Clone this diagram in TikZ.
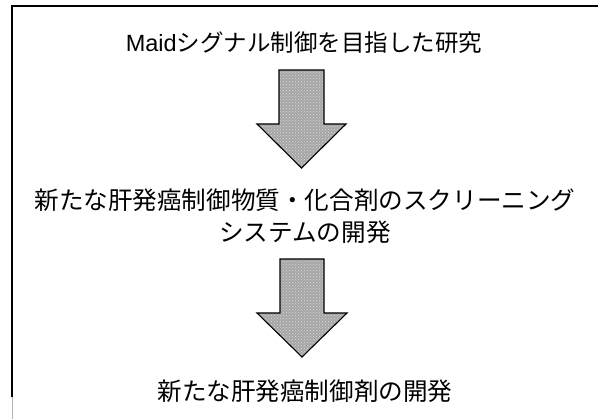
\documentclass[tikz,border=0pt]{standalone}
\usepackage{fontspec}
\setmainfont{Noto Sans CJK JP}
\newfontfamily\latinsans{Liberation Sans}
\usetikzlibrary{patterns}
\tikzset{
  frameline/.style={line width=1.2pt, black},
  label/.style={inner sep=0pt, anchor=center, align=center, font=\fontsize{24.6}{32}\selectfont},
  fatarrow/.style={draw=black, line width=1.1pt, line join=miter,
    preaction={fill=gray!70}, pattern=crosshatch dots, pattern color=gray!30},
}
\begin{document}
\begin{tikzpicture}[x=1pt,y=-1pt]
\useasboundingbox (0,0) rectangle (598,419);
% frame (only top and left edges visible)
\draw[frameline] (12,397) -- (12,6) -- (598,6);
\draw[gray!60, line width=0.8pt] (12,397) -- (12,419);

\node[label, font=\fontsize{23.5}{30}\selectfont] (t1) at (304,43) {{\latinsans Maid}シグナル制御を目指した研究};
\node[label] (t2) at (305,216) {新たな肝発癌制御物質・化合剤のスクリーニング\\システムの開発};
\node[label] (t3) at (305,391) {新たな肝発癌制御剤の開発};

% arrow 1 : t1 -> t2
\coordinate (a1) at (301.5,70);
\draw[fatarrow] (a1) ++(-22.5,0) -- ++(45,0) -- ++(0,54) -- ++(22,0)
  -- (301.5,168) coordinate (a1tip) -- (257,124) -- ++(22,0) -- cycle;
% arrow 2 : t2 -> t3
\coordinate (a2) at (302,259);
\draw[fatarrow] (a2) ++(-22,0) -- ++(44,0) -- ++(0,54) -- ++(23,0)
  -- (302,357) coordinate (a2tip) -- (257,313) -- ++(23,0) -- cycle;
\end{tikzpicture}
\end{document}
